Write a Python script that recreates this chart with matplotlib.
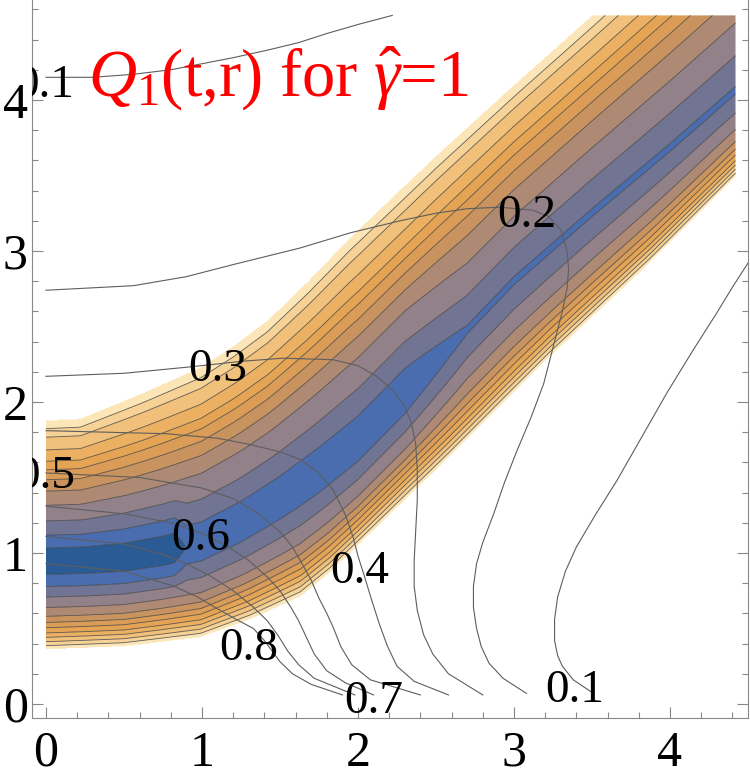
import numpy as np
import matplotlib
matplotlib.use("Agg")
import matplotlib.pyplot as plt
from matplotlib.ticker import MultipleLocator

plt.rcParams["font.family"] = ["Liberation Serif", "DejaVu Serif"]
plt.rcParams["mathtext.fontset"] = "custom"
plt.rcParams["mathtext.rm"] = "Liberation Serif"
plt.rcParams["mathtext.it"] = "Liberation Serif:italic"

# --- filled band (t -> r) -------------------------------------------------
edge_hi_t = [0.0, 0.22, 0.62, 0.99, 1.2, 1.42, 1.68, 1.95, 2.5, 3.0, 3.5, 4.5]
edge_hi_r = [1.88, 1.89, 2.06, 2.23, 2.37, 2.54, 2.80, 3.09, 3.63, 4.10, 4.56, 5.50]
edge_lo_t = [0.0, 0.5, 0.99, 1.31, 1.63, 1.82, 2.2, 2.59, 3.23, 3.87, 4.4, 4.5]
edge_lo_r = [0.36, 0.38, 0.44, 0.56, 0.71, 0.87, 1.25, 1.64, 2.30, 2.92, 3.47, 3.57]
ridge_t = [0.0, 0.25, 0.5, 0.75, 1.0, 1.25, 1.5, 1.75, 2.0, 2.5, 3.0, 3.5, 4.0, 4.5]
ridge_r = [0.94, 0.945, 0.96, 1.0, 1.06, 1.19, 1.35, 1.53, 1.73, 2.26, 2.80, 3.25, 3.68, 4.13]
# where the band levels sit, as fraction of the distance ridge -> edge
up_frac = [0.10, 0.19, 0.29, 0.40, 0.50, 0.58, 0.65, 0.71, 0.79, 0.88, 0.94, 1.0]
lo_frac = [0.14, 0.28, 0.40, 0.52, 0.62, 0.69, 0.75, 0.81, 0.86, 0.91, 0.955, 1.0]
# how far the ridge value is lifted (in levels) along t
lift1_t = [0.0, 0.82, 0.9, 4.5]
lift1_v = [0.0, 0.0, 1.05, 1.05]
lift2_t = [0.0, 2.3, 2.7, 4.5]
lift2_v = [0.0, 0.0, 0.8, 0.8]
level_colors = ["#2a5b94", "#4a6db0", "#717593", "#928189", "#ae8a74", "#c8935f",
                "#da9c57", "#e5a453", "#ebb062", "#f1c07a", "#f6d296", "#fce6b8"]

# --- overlay contour lines, one (t, r) list per curve ----------------------
c01a_t = [0.0, 0.3, 0.56, 0.8, 1.0, 1.2, 1.42, 1.62, 1.8, 2.0, 2.22]
c01a_r = [4.15, 4.15, 4.17, 4.20, 4.24, 4.28, 4.33, 4.38, 4.44, 4.50, 4.56]
c01b_t = [4.5, 4.4, 4.3, 4.14, 3.98, 3.82, 3.66, 3.52, 3.40, 3.33, 3.28, 3.26, 3.26,
          3.28, 3.31, 3.38, 3.51]
c01b_r = [2.92, 2.76, 2.59, 2.33, 2.06, 1.77, 1.48, 1.25, 1.04, 0.88, 0.71, 0.56, 0.42,
          0.32, 0.25, 0.16, 0.07]
c02_t = [0.0, 0.56, 0.9, 1.2, 1.63, 1.95, 2.27, 2.5, 2.7, 2.91, 3.12, 3.22, 3.30, 3.34,
         3.35, 3.34, 3.31, 3.26, 3.19, 3.11, 3.02, 2.94, 2.87, 2.80, 2.76, 2.74, 2.74,
         2.76, 2.79, 2.84, 2.93, 3.08]
c02_r = [2.74, 2.77, 2.83, 2.91, 3.02, 3.12, 3.20, 3.25, 3.28, 3.29, 3.27, 3.23, 3.14, 3.0,
         2.88, 2.75, 2.60, 2.40, 2.12, 1.90, 1.68, 1.47, 1.26, 1.07, 0.93, 0.78, 0.64,
         0.50, 0.38, 0.27, 0.17, 0.07]
c03_t = [0.0, 0.5, 0.9, 1.26, 1.52, 1.84, 2.0, 2.12, 2.22, 2.29, 2.34, 2.37, 2.38, 2.38,
         2.37, 2.36, 2.36, 2.38, 2.42, 2.48, 2.58, 2.80]
c03_r = [2.17, 2.19, 2.23, 2.27, 2.29, 2.28, 2.24, 2.17, 2.08, 1.99, 1.87, 1.72, 1.55, 1.35,
         1.15, 0.95, 0.78, 0.62, 0.46, 0.33, 0.20, 0.06]
c04_t = [0.0, 0.77, 1.1, 1.3, 1.5, 1.63, 1.75, 1.84, 1.92, 1.97, 2.0, 2.04, 2.09, 2.14,
         2.19, 2.25, 2.36, 2.58]
c04_r = [1.81, 1.79, 1.76, 1.72, 1.67, 1.62, 1.53, 1.42, 1.25, 1.10, 0.98, 0.85, 0.68,
         0.52, 0.38, 0.25, 0.15, 0.06]
c05_t = [0.0, 0.6, 1.0, 1.2, 1.35, 1.5, 1.58, 1.63, 1.7, 1.75, 1.8, 1.84, 1.89, 1.96,
         2.08, 2.40]
c05_r = [1.53, 1.50, 1.43, 1.36, 1.27, 1.14, 1.04, 0.95, 0.82, 0.70, 0.60, 0.51, 0.38,
         0.26, 0.16, 0.06]
c06_t = [0.0, 0.5, 0.8, 1.0, 1.17, 1.3, 1.42, 1.5, 1.57, 1.62, 1.67, 1.72, 1.8, 1.92, 2.10]
c06_r = [1.31, 1.26, 1.20, 1.13, 1.04, 0.95, 0.84, 0.75, 0.64, 0.55, 0.44, 0.33, 0.22,
         0.14, 0.06]
c07_t = [0.0, 0.5, 0.75, 0.9, 1.05, 1.2, 1.32, 1.42, 1.49, 1.55, 1.62, 1.72, 1.98]
c07_r = [1.11, 1.06, 0.99, 0.93, 0.85, 0.75, 0.65, 0.55, 0.45, 0.35, 0.26, 0.17, 0.06]
c08_t = [0.0, 0.5, 0.82, 0.97, 1.1, 1.22, 1.33, 1.4, 1.45, 1.5, 1.58, 1.7, 1.90]
c08_r = [0.93, 0.88, 0.78, 0.71, 0.63, 0.56, 0.50, 0.42, 0.35, 0.28, 0.20, 0.13, 0.06]

label_text = ["0.1", "0.2", "0.3", "0.4", "0.5", "0.6", "0.7", "0.8", "0.1"]
label_t = [-0.01, 3.08, 1.10, 2.01, 0.0, 0.99, 2.10, 1.30, 3.39]
label_r = [4.02, 3.16, 2.14, 0.80, 1.43, 1.02, -0.06, 0.29, 0.01]

fig = plt.figure(figsize=(7.5, 7.82), dpi=100)
ax = fig.add_axes([32 / 750, 64 / 782, 716 / 750, 718 / 782])

# band field built from the read geometry
T, R = np.meshgrid(np.linspace(0, 4.42, 800), np.linspace(0, 4.56, 800))
hi = np.interp(T, edge_hi_t, edge_hi_r)
lo = np.interp(T, edge_lo_t, edge_lo_r)
mid = np.interp(T, ridge_t, ridge_r)
above = R >= mid
frac = np.where(above, (R - mid) / (hi - mid), (mid - R) / (mid - lo))
idx = np.arange(13)
v = np.where(above, np.interp(frac, [0] + up_frac, idx), np.interp(frac, [0] + lo_frac, idx))
m1 = np.interp(T, lift1_t, lift1_v)
m2 = np.interp(T, lift2_t, lift2_v)
v = v + m1 * np.clip(1 - v / 4, 0, None) + m2 * np.clip(1 - v / 8, 0, None)
v = np.where(frac > 1, np.nan, v)

ax.contourf(T, R, v, levels=idx, colors=level_colors, antialiased=True)
ax.contour(T, R, v, levels=idx[1:12], colors="#3a3a3a", linewidths=0.6, alpha=0.8)

for ct, cr in [(c01a_t, c01a_r), (c01b_t, c01b_r), (c02_t, c02_r), (c03_t, c03_r),
               (c04_t, c04_r), (c05_t, c05_r), (c06_t, c06_r), (c07_t, c07_r), (c08_t, c08_r)]:
    ax.plot(ct, cr, color="#5e5e5e", lw=0.8, zorder=3)

for s, t, r in zip(label_text, label_t, label_r):
    ax.text(t, r, s, fontsize=34, ha="center", va="baseline", clip_on=True, zorder=5)

ax.set_xlim(-0.0897, 4.5)
ax.set_ylim(-0.0927, 4.662)
ax.set_xticks(range(5))
ax.set_yticks(range(5))
ax.xaxis.set_minor_locator(MultipleLocator(0.2))
ax.yaxis.set_minor_locator(MultipleLocator(0.2))
ax.tick_params(which="both", direction="in", color="#888888", width=0.8,
               right=True, top=False, labelsize=36)
ax.tick_params(which="major", length=8)
ax.tick_params(which="minor", length=4)
ax.tick_params(axis="x", pad=9)
ax.tick_params(axis="y", pad=3)
ax.spines["top"].set_visible(False)
for side in ["left", "right", "bottom"]:
    ax.spines[side].set_color("#888888")
    ax.spines[side].set_linewidth(0.8)

fig.text(88 / 750, 1 - 97 / 782, r"$Q_1$(t,r) for $\hat{\gamma}$=1", color="red",
         fontsize=48, ha="left", va="baseline")

fig.savefig("out.png", dpi=100)
